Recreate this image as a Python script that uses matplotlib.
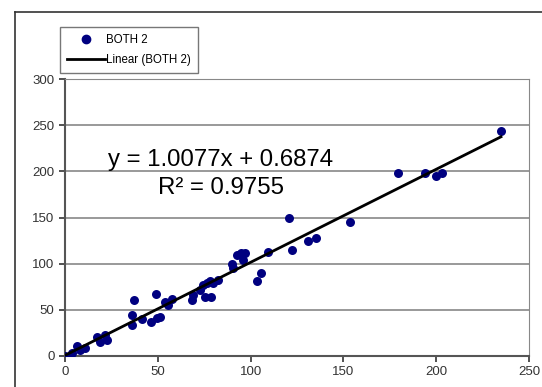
import numpy as np
import matplotlib
matplotlib.use("Agg")
import matplotlib.pyplot as plt
from matplotlib.lines import Line2D

plt.rcParams["font.family"] = ["Liberation Sans", "DejaVu Sans"]

# data
both_x = [0, 6.3, 8, 10.8, 3.6, 17, 18.9, 21.5, 22.5, 35.9, 37.2, 35.9, 41.3,
          46.3, 48.9, 49.4, 51.2, 53.9, 55.7, 57.5, 68.3, 69.1, 72.7, 74.5,
          75.4, 78.5, 78.1, 79.9, 82.6, 76.3, 90.1, 90.7, 92.8, 94.7, 97, 96,
          103.3, 105.4, 109.5, 120.9, 122.1, 131.1, 135.2, 153.7, 179.2, 194,
          199.9, 203, 234.9]
both_y = [0, 10.8, 6.5, 8.7, 3.6, 21, 15.5, 22.7, 17.3, 44.4, 60.6, 33.6, 39.7,
          37.2, 67.1, 40.8, 41.9, 58.8, 55.2, 61.4, 60.6, 66, 71.5, 76.9,
          63.5, 64.2, 81.6, 78.6, 82.3, 79.4, 99.6, 95, 109.4, 111.1, 111.9, 104,
          81.6, 90.2, 113, 149.1, 114.8, 124.9, 127.4, 145.1, 198.5, 198.5,
          195, 198.5, 243.7]
slope, intercept = 1.0077, 0.6874
x_ticks = [0, 50, 100, 150, 200, 250]
y_ticks = [0, 50, 100, 150, 200, 250, 300]

W, H = 542, 387
fig = plt.figure(figsize=(W / 100, H / 100), dpi=100)
ax = fig.add_axes([65 / W, 1 - 356 / H, (529 - 65) / W, (356 - 79) / H])

# outer chart frame (partly cropped in the original)
fig.add_artist(Line2D([15 / W, 15 / W], [0, 1 - 12 / H], color="#333333", lw=1.2,
                      transform=fig.transFigure))
fig.add_artist(Line2D([15 / W, 1], [1 - 12 / H, 1 - 12 / H], color="#333333", lw=1.2,
                      transform=fig.transFigure))

ax.scatter(both_x, both_y, s=42, color="#000080", zorder=3, linewidths=0)
xs = np.array([0, max(both_x)])
ax.plot(xs, slope * xs + intercept, color="black", lw=2, zorder=4)

ax.set_xlim(0, 250); ax.set_ylim(0, 300)
ax.set_xticks(x_ticks); ax.set_yticks(y_ticks)
ax.tick_params(labelsize=9.5, colors="#333333", length=4, width=1.2, direction="out")
ax.yaxis.grid(True, color="#888888", lw=1.2)
ax.set_axisbelow(True)
for s in ["top", "right"]:
    ax.spines[s].set_color("#888888")
for s in ["left", "bottom"]:
    ax.spines[s].set_color("#555555")
    ax.spines[s].set_linewidth(1.5)

ax.text(84, 212, "y = 1.0077x + 0.6874", ha="center", va="center", fontsize=17.3)
ax.text(84, 182, "R² = 0.9755", ha="center", va="center", fontsize=17.3)

handles = [Line2D([], [], marker="o", ls="none", color="#000080", ms=6),
           Line2D([], [], color="black", lw=2)]
leg = fig.legend(handles, ["BOTH 2", "Linear (BOTH 2)"],
                 loc="upper left", bbox_to_anchor=(60 / W, 1 - 27 / H),
                 fontsize=8.3, frameon=True, fancybox=False, borderpad=0.6,
                 handlelength=3.3, handletextpad=0.1, labelspacing=0.7,
                 borderaxespad=0)
leg.get_frame().set_edgecolor("#555555")
leg.get_frame().set_linewidth(1)

fig.savefig("out.png", dpi=100)
